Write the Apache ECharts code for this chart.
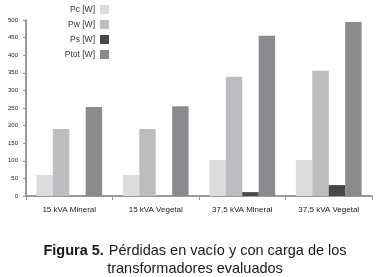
<!DOCTYPE html>
<html><head><meta charset="utf-8">
<script src="https://cdn.jsdelivr.net/npm/echarts@6/dist/echarts.min.js"></script>
<style>html,body{margin:0;padding:0;background:#fff}#c{width:379px;height:277px}</style>
</head><body><div id="c"></div>
<script>
var categories = ['15 kVA Mineral', '15 kVA Vegetal', '37,5 kVA Mineral', '37,5 kVA Vegetal'];
var seriesNames = ['Pc [W]', 'Pw [W]', 'Ps [W]', 'Ptot [W]'];
var pc = [60, 60, 102, 102];
var pw = [190, 190, 339, 356];
var ps = [0, 0, 11, 31];
var ptot = [253, 255, 455, 494];
var colors = ['#dcdcde', '#bcbdc0', '#48484b', '#8a8b8e'];
var values = [pc, pw, ps, ptot];
var FONT = '"Liberation Sans", Arial, sans-serif';

var chart = echarts.init(document.getElementById('c'));
chart.setOption({
  animation: false,
  color: colors,
  textStyle: {fontFamily: FONT},
  title: {
    left: 190, top: 237, textAlign: 'center',
    text: '{b|Figura 5.} {n|Pérdidas en vacío y con carga de los}\n{n|transformadores evaluados}',
    textStyle: {
      fontFamily: FONT, fontWeight: 'normal',
      rich: {
        b: {fontWeight: 'bold', fontSize: 14.5, color: '#1a1a1a', fontFamily: FONT, lineHeight: 18},
        n: {fontWeight: 'normal', fontSize: 14.5, color: '#1a1a1a', fontFamily: FONT, lineHeight: 18}
      }
    }
  },
  legend: {
    orient: 'vertical', right: 265, top: 0, align: 'right', icon: 'rect',
    itemWidth: 9, itemHeight: 9, itemGap: 6,
    textStyle: {fontSize: 8.5, color: '#333', fontFamily: FONT},
    data: seriesNames
  },
  grid: {left: 26, right: 7, top: 20, bottom: 81, containLabel: false},
  xAxis: {
    type: 'category', data: categories,
    axisLine: {lineStyle: {color: '#9a9a9a', width: 2}},
    axisTick: {show: true, length: 4, lineStyle: {color: '#9a9a9a', width: 1}},
    axisLabel: {fontSize: 8, color: '#222', margin: 10, fontFamily: FONT}
  },
  yAxis: {
    type: 'value', min: 0, max: 500, interval: 50,
    axisLine: {show: true, lineStyle: {color: '#9a9a9a', width: 2}},
    axisTick: {show: true, length: 3, lineStyle: {color: '#9a9a9a'}},
    splitLine: {show: false},
    axisLabel: {fontSize: 6, color: '#222', margin: 8, fontFamily: FONT}
  },
  series: seriesNames.map(function (n, i) {
    return {
      name: n, type: 'bar', data: values[i],
      barGap: '0%', barCategoryGap: '24%',
      itemStyle: {color: colors[i]}
    };
  })
});
</script></body></html>
